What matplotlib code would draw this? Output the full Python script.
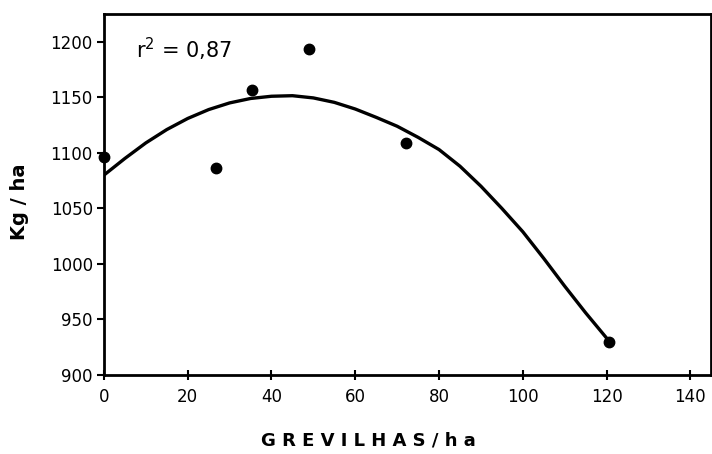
import matplotlib
matplotlib.use('Agg')
import matplotlib.pyplot as plt

# observed yields (Kg/ha) vs number of grevilleas per ha
grevilhas = [0, 26.8, 35.4, 49, 72, 120.6]
kg_ha = [1096, 1086, 1157, 1194, 1109, 930]

# fitted curve
curve_x = [0, 5, 10, 15, 20, 25, 30, 35, 40, 45, 50, 55, 60, 65, 70, 75, 80,
           85, 90, 95, 100, 105, 110, 115, 120.5]
curve_y = [1080, 1095, 1109, 1121, 1131, 1139, 1145, 1149, 1151, 1151.5, 1149.5,
           1145.5, 1139.5, 1132, 1124, 1114, 1103, 1088, 1070, 1050, 1029, 1005,
           980, 956, 931]

x_ticks = [0, 20, 40, 60, 80, 100, 120, 140]
y_ticks = [900, 950, 1000, 1050, 1100, 1150, 1200]

fig = plt.figure(figsize=(7.12, 4.54), dpi=100)
ax = fig.add_axes([0.146, 0.174, 0.853, 0.795])

ax.plot(curve_x, curve_y, color='black', linewidth=2.4, solid_capstyle='round',
        solid_joinstyle='round')
ax.plot(grevilhas, kg_ha, 'o', color='black', markersize=7.5, clip_on=False)

ax.set_xlim(0, 145)
ax.set_ylim(900, 1225)
ax.set_xticks(x_ticks)
ax.set_yticks(y_ticks)
ax.tick_params(axis='x', direction='inout', length=7, width=1.5, labelsize=12, pad=6)
ax.tick_params(axis='y', direction='out', length=5, width=1.5, labelsize=12, pad=3)
for s in ax.spines.values():
    s.set_linewidth(2)

ax.text(0.052, 0.94, r'r$^2$ = 0,87', transform=ax.transAxes, fontsize=15, va='top')

fig.text(0.517, 0.03, 'G R E V I L H A S / h a', ha='center', va='center',
         fontsize=13, fontweight='bold')
fig.text(0.027, 0.555, 'Kg / ha', ha='center', va='center', rotation=90,
         fontsize=14, fontweight='bold')

fig.savefig('out.png', dpi=100)
